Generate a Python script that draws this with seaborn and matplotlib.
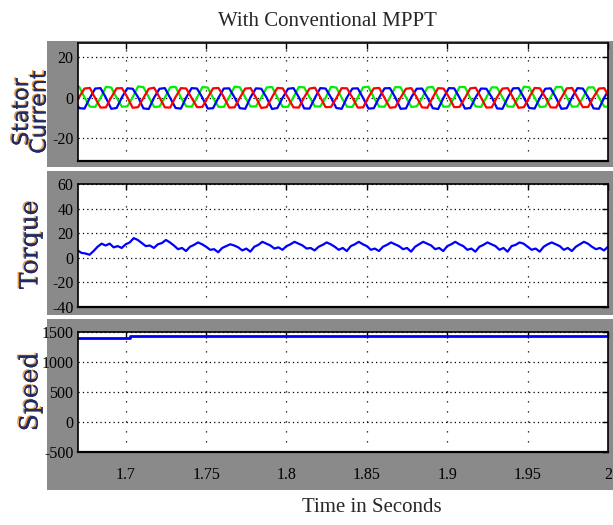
import numpy as np
import pandas as pd
import matplotlib
matplotlib.use("Agg")
import matplotlib.pyplot as plt
import matplotlib.patheffects as pe
from matplotlib.patches import Rectangle
import seaborn as sns

# ---- data ----
# stator currents, sampled every 1/300 s starting at 1.66767 s
current_t0 = 1.66767
current_dt = 1.0 / 300
red_current = [
    -4.6, 0.2, 4.4, 4.7, -0.3, -4.9,
    -4.8, 0.1, 4.5, 4.6, 0.2, -5.0,
    -4.7, -0.2, 4.3, 4.8, 0.1, -4.8,
    -4.9, 0.3, 4.6, 4.4, -0.2, -4.7,
    -4.6, 0.0, 4.5, 4.7, 0.3, -4.9,
    -4.8, -0.1, 4.4, 4.6, 0.0, -5.1,
    -4.7, 0.2, 4.7, 4.5, -0.1, -4.8,
    -4.9, 0.1, 4.4, 4.8, 0.2, -4.7,
    -4.6, -0.3, 4.6, 4.5, 0.0, -4.9,
    -4.8, 0.2, 4.5, 4.7, -0.2, -5.0,
    -4.7, 0.0, 4.3, 4.6, 0.1, -4.8,
    -5.0, 0.1, 4.6, 4.4, 0.3, -4.7,
    -4.6, -0.2, 4.5, 4.8, 0.0, -4.9,
    -4.8, 0.2, 4.4, 4.6, -0.1, -5.0,
    -4.7, 0.1, 4.7, 4.5, 0.2, -4.8,
    -4.9, -0.1, 4.5, 4.7, 0.0, -4.7,
    -4.6, 0.2, 4.4, 4.6, -0.2, -4.9,
]
blue_current = [
    0.1, -5.2, -5.4, -0.2, 4.4, 4.6,
    -0.1, -5.5, -5.1, 0.2, 4.5, 4.3,
    0.2, -5.3, -5.6, 0.0, 4.3, 4.6,
    -0.2, -5.1, -5.4, 0.1, 4.6, 4.4,
    0.0, -5.4, -5.2, -0.1, 4.4, 4.5,
    0.1, -5.2, -5.5, 0.2, 4.5, 4.3,
    -0.1, -5.6, -5.1, 0.0, 4.3, 4.6,
    0.2, -5.3, -5.4, -0.2, 4.6, 4.4,
    0.0, -5.1, -5.5, 0.1, 4.4, 4.5,
    -0.2, -5.4, -5.2, 0.0, 4.5, 4.6,
    0.1, -5.5, -5.3, 0.2, 4.3, 4.4,
    0.0, -5.2, -5.6, -0.1, 4.6, 4.5,
    -0.1, -5.4, -5.1, 0.1, 4.4, 4.3,
    0.2, -5.3, -5.5, 0.0, 4.5, 4.6,
    0.0, -5.1, -5.4, -0.2, 4.3, 4.5,
    -0.1, -5.5, -5.2, 0.1, 4.6, 4.4,
    0.1, -5.3, -5.5, 0.0, 4.4, 4.6,
]
green_current = [
    5.0, 5.3, 0.1, -4.4, -4.6, -0.2,
    5.2, 4.9, -0.1, -4.5, -4.3, 0.2,
    5.4, 5.1, 0.2, -4.6, -4.4, 0.0,
    5.0, 5.2, 0.0, -4.3, -4.5, -0.1,
    5.1, 4.9, -0.2, -4.5, -4.6, 0.1,
    5.3, 5.0, 0.1, -4.4, -4.3, 0.0,
    4.9, 5.2, 0.0, -4.6, -4.5, 0.2,
    5.1, 5.0, 0.2, -4.3, -4.4, -0.1,
    5.2, 4.9, -0.1, -4.5, -4.6, 0.0,
    5.0, 5.3, 0.0, -4.4, -4.5, 0.1,
    5.1, 5.0, 0.1, -4.6, -4.3, -0.2,
    4.9, 5.2, 0.0, -4.5, -4.4, 0.0,
    5.2, 5.1, -0.2, -4.3, -4.6, 0.1,
    5.0, 4.9, 0.1, -4.4, -4.5, 0.0,
    5.3, 5.0, 0.0, -4.6, -4.4, 0.2,
    5.1, 5.2, 0.2, -4.5, -4.3, -0.1,
    4.9, 5.0, 0.0, -4.4, -4.6, 0.1,
]

# torque, sampled every 2.5 ms starting at 1.67 s
torque_t0 = 1.67
torque_dt = 0.0025
torque = [
    6.0, 4.0, 3.5, 2.5, 5.5, 9.0, 11.5, 10.0,
    11.5, 8.5, 9.5, 8.0, 11.0, 12.5, 16.0, 14.5,
    12.0, 9.5, 10.0, 8.0, 11.0, 12.0, 14.5, 12.5,
    10.0, 7.0, 8.0, 5.5, 9.0, 10.5, 12.5, 11.0,
    9.0, 6.5, 7.0, 4.5, 8.0, 9.5, 11.0, 10.0,
    8.5, 6.0, 7.5, 5.0, 9.0, 10.5, 13.0, 11.5,
    10.0, 7.5, 8.5, 6.5, 9.5, 11.0, 13.0, 11.5,
    10.0, 7.5, 8.0, 6.0, 9.0, 10.5, 12.5, 11.0,
    9.0, 6.5, 8.0, 5.5, 9.5, 11.0, 13.0, 11.0,
    9.5, 6.5, 7.5, 5.5, 9.0, 10.5, 12.5, 11.0,
    9.5, 7.0, 8.0, 5.0, 9.0, 11.0, 13.0, 11.5,
    10.0, 7.0, 8.0, 5.5, 9.5, 11.0, 13.0, 11.0,
    9.5, 6.5, 7.5, 5.0, 9.0, 10.5, 12.5, 11.0,
    9.5, 6.5, 8.0, 5.0, 9.5, 10.5, 12.5, 11.5,
    9.0, 6.5, 7.5, 5.0, 9.0, 11.0, 12.5, 11.0,
    9.5, 6.5, 8.0, 5.5, 9.0, 11.0, 13.0, 11.5,
    9.0, 7.0, 8.0, 6.0, 9.0,
]

# speed (small step just after 1.7 s)
speed_time = [1.66, 1.7028, 1.7028, 2.01]
speed = [1390, 1390, 1430, 1430]

x_ticks = [1.7, 1.75, 1.8, 1.85, 1.9, 1.95, 2.0]
x_tick_labels = ["1.7", "1.75", "1.8", "1.85", "1.9", "1.95", "2"]

# ---- data frames ----
t_cur = current_t0 + current_dt * np.arange(len(red_current))
df_cur = pd.DataFrame({"time": t_cur, "red": red_current,
                       "blue": blue_current, "green": green_current})
t_tq = torque_t0 + torque_dt * np.arange(len(torque))
df_tq = pd.DataFrame({"time": t_tq, "torque": torque})
df_sp = pd.DataFrame({"time": speed_time, "speed": speed})

sns.set_style("white")
plt.rcParams["font.family"] = ["Liberation Serif", "DejaVu Serif"]
plt.rcParams["axes.unicode_minus"] = False

W, H = 613, 525
fig = plt.figure(figsize=(W / 100, H / 100), dpi=100)
fig.patch.set_facecolor("white")

def fx(px):
    return px / W

def fy(py):
    return 1 - py / H

# grey panels behind each axes (top, bottom in pixels)
for top, bottom in [(41, 167), (171, 315), (319, 490)]:
    fig.patches.append(Rectangle((fx(47), fy(bottom)), 1 - fx(47), (bottom - top) / H,
                                 transform=fig.transFigure, facecolor="#8a8a8a",
                                 edgecolor="none", zorder=-5))

left = fx(77.5)
width = fx(608) - left

def make_ax(top, bottom):
    return fig.add_axes([left, fy(bottom), width, (bottom - top) / H])

ax1 = make_ax(43.3, 161)
ax2 = make_ax(184, 307)
ax3 = make_ax(331.7, 451.7)

sns.lineplot(data=df_cur, x="time", y="green", color="#00ee00", lw=1.6,
             estimator=None, sort=False, ax=ax1)
sns.lineplot(data=df_cur, x="time", y="blue", color="#0000ff", lw=1.6,
             estimator=None, sort=False, ax=ax1)
sns.lineplot(data=df_cur, x="time", y="red", color="#ff0000", lw=1.6,
             estimator=None, sort=False, ax=ax1)
sns.lineplot(data=df_tq, x="time", y="torque", color="#0000ff", lw=1.6,
             estimator=None, sort=False, ax=ax2)
sns.lineplot(data=df_sp, x="time", y="speed", color="#0000ff", lw=2.0,
             estimator=None, sort=False, ax=ax3)

ax1.set_ylim(-31, 26.5)
ax1.set_yticks([-20, 0, 20])
ax2.set_ylim(-40, 60)
ax2.set_yticks([-40, -20, 0, 20, 40, 60])
ax3.set_ylim(-500, 1500)
ax3.set_yticks([-500, 0, 500, 1000, 1500])

for ax in (ax1, ax2, ax3):
    ax.set_xlim(1.67, 2.0)
    ax.set_xticks(x_ticks)
    ax.set_xlabel("")
    ax.set_ylabel("")
    ax.set_facecolor("white")
    ax.yaxis.grid(True, linestyle=(0, (1, 2.5)), color="black", lw=0.9)
    ax.xaxis.grid(True, linestyle=(0, (1, 7)), color="black", lw=0.9)
    ax.tick_params(direction="in", length=4, width=1, top=True, right=True,
                   labelsize=11.5, pad=3, colors="black")
    for s in ax.spines.values():
        s.set_color("black")
        s.set_linewidth(1.2)
    ax.spines["bottom"].set_linewidth(1.6)

ax1.set_xticklabels([])
ax2.set_xticklabels([])
ax3.set_xticklabels(x_tick_labels)
ax3.tick_params(axis="x", pad=11)

fig.text(fx(327), fy(22), "With Conventional MPPT", ha="center", va="center",
         fontsize=15)
fig.text(fx(372), fy(507), "Time in Seconds", ha="center", va="center",
         fontsize=15)

shadow = [pe.withSimplePatchShadow(offset=(-1.2, 0.6), shadow_rgbFace="#e08a2a",
                                   alpha=0.9), pe.Normal()]
fig.text(fx(31), fy(112), "Stator\nCurrent", rotation=90, ha="center", va="center",
         fontsize=16, family="DejaVu Sans", color="#1e2c66", linespacing=0.85,
         path_effects=shadow)
fig.text(fx(31), fy(245), "Torque", rotation=90, ha="center", va="center",
         fontsize=18, family="DejaVu Serif", color="#1e2c66", path_effects=shadow)
fig.text(fx(31), fy(392), "Speed", rotation=90, ha="center", va="center",
         fontsize=18, family="DejaVu Serif", color="#1e2c66", path_effects=shadow)

fig.savefig("out.png", dpi=100)
